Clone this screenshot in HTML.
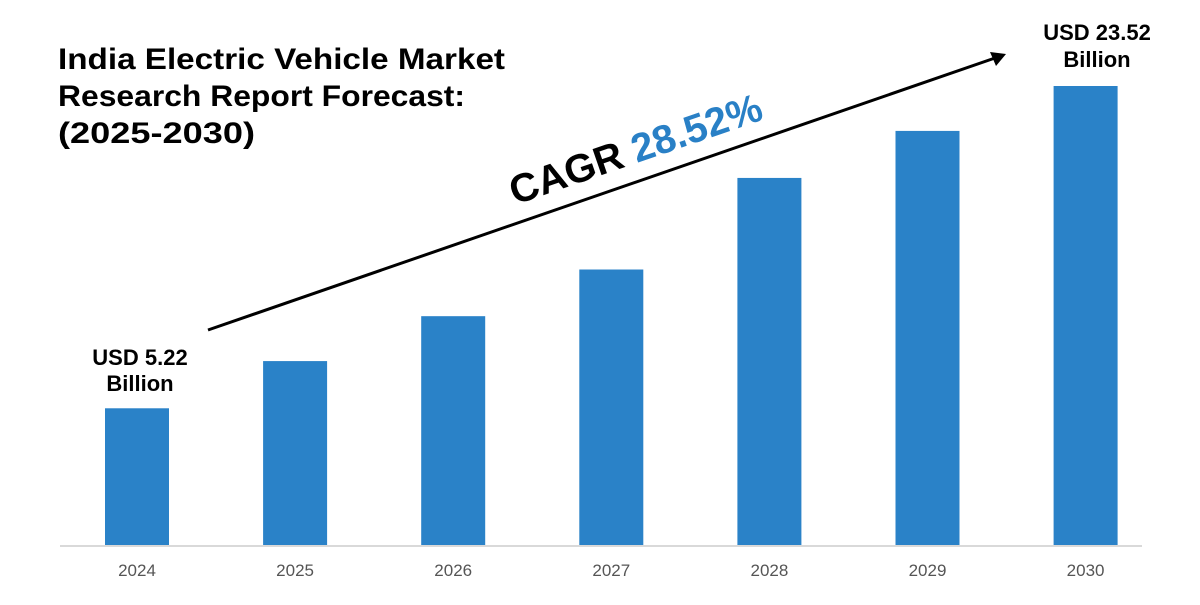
<!DOCTYPE html>
<html><head><meta charset="utf-8"><style>
body{margin:0;background:#fff;width:1200px;height:600px;overflow:hidden;font-family:"Liberation Sans",sans-serif}
</style></head><body>
<svg width="1200" height="600">
<g id="bars"></g>
<line x1="60" y1="546" x2="1142" y2="546" stroke="#d9d9d9" stroke-width="2"/>
<g id="ticks"></g>
<g font-size="30" font-weight="bold" fill="#000">
<text x="58" y="69" textLength="447" lengthAdjust="spacingAndGlyphs">India Electric Vehicle Market</text>
<text x="58" y="106" textLength="407" lengthAdjust="spacingAndGlyphs">Research Report Forecast:</text>
<text x="58" y="143" textLength="197" lengthAdjust="spacingAndGlyphs">(2025-2030)</text>
</g>
<line x1="208" y1="330" x2="995" y2="58" stroke="#000" stroke-width="3"/>
<polygon points="1006,54 990,52 996,66" fill="#000"/>
<text transform="translate(515,205) rotate(-19)" font-size="40" font-weight="bold"><tspan fill="#000">CAGR </tspan><tspan fill="#2980c6">28.52%</tspan></text>
<text x="140" y="365" text-anchor="middle" font-size="22" font-weight="bold"><tspan x="140">USD 5.22</tspan><tspan x="140" dy="26">Billion</tspan></text>
<text x="1097" y="40" text-anchor="middle" font-size="22" font-weight="bold"><tspan x="1097">USD 23.52</tspan><tspan x="1097" dy="27">Billion</tspan></text>
</svg>
<script>
const categories=["2024","2025","2026","2027","2028","2029","2030"];
const values=[5.22,7.9,10.45,13.1,18.3,20.97,23.52];
const yMin=-2.6, yMax=23.52;
const baseY=546, topY=86;
function y(v){return baseY-(v-yMin)/(yMax-yMin)*(baseY-topY);}
function xc(i){return 137+i*158.1;}
const ns="http://www.w3.org/2000/svg";
const bars=document.getElementById('bars'), ticks=document.getElementById('ticks');
values.forEach((v,i)=>{
 const r=document.createElementNS(ns,'rect');
 r.setAttribute('x',xc(i)-32);r.setAttribute('width',64);
 r.setAttribute('y',y(v));r.setAttribute('height',baseY-y(v));
 r.setAttribute('fill','#2a82c8');
 
 
 bars.appendChild(r);
 const t=document.createElementNS(ns,'text');
 t.setAttribute('x',xc(i));t.setAttribute('y',576);
 t.setAttribute('text-anchor','middle');t.setAttribute('font-size','17');t.setAttribute('fill','#555');
 t.textContent=categories[i];
 
 
 ticks.appendChild(t);
});
</script>
</body></html>
